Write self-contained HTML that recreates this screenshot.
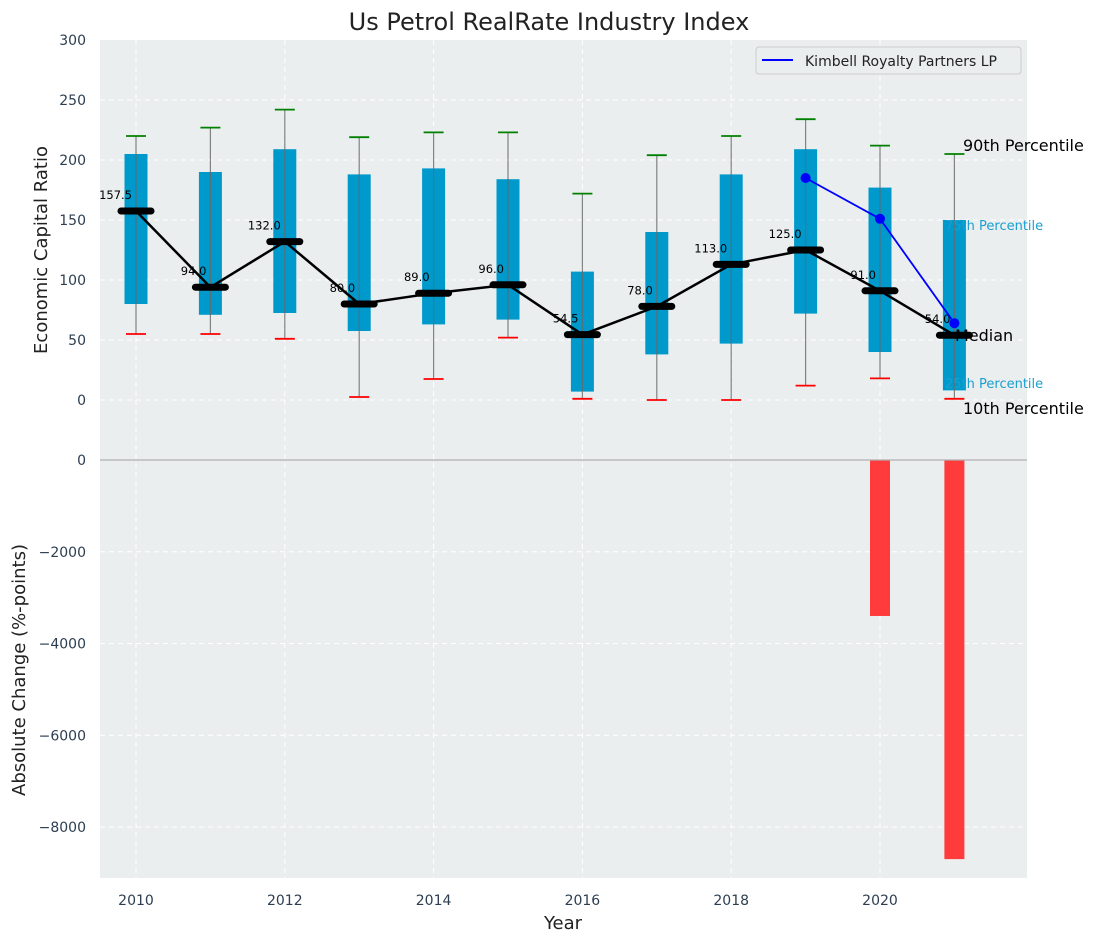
<!DOCTYPE html>
<html><head><meta charset="utf-8"><style>
body{margin:0;background:#fff;}
svg text{font-family:"DejaVu Sans","Liberation Sans",sans-serif;}
</style></head><body>
<svg id="chart" width="1098" height="942" xmlns="http://www.w3.org/2000/svg">
<rect x="100" y="40" width="927" height="838" fill="#eaeeef"/>
<g id="grid"></g>
<g id="bars"></g>
<g id="boxes"></g>
<line x1="100" x2="1027" y1="460" y2="460" stroke="#b0b0b0" stroke-width="1.2"/>
<text x="549" y="30" text-anchor="middle" font-size="24" fill="#222">Us Petrol RealRate Industry Index</text>
<text x="563" y="929" text-anchor="middle" font-size="18" fill="#222">Year</text>
<text transform="translate(47,250) rotate(-90)" text-anchor="middle" font-size="18" fill="#222">Economic Capital Ratio</text>
<text transform="translate(25,670) rotate(-90)" text-anchor="middle" font-size="18" fill="#222">Absolute Change (%-points)</text>
<g>
<rect x="756" y="47" width="265" height="27" rx="3" fill="#eaeeef" stroke="#ccc"/>
<line x1="762" x2="793" y1="60" y2="60" stroke="#0000ff" stroke-width="2"/>
<text x="805" y="66" font-size="14" fill="#222">Kimbell Royalty Partners LP</text>
</g>
<text x="963" y="151" font-size="16" fill="#000">90th Percentile</text>
<text x="945" y="230" font-size="13" fill="#1a9fd0">75th Percentile</text>
<text x="955" y="341" font-size="16" fill="#000">Median</text>
<text x="945" y="388" font-size="13" fill="#1a9fd0">25th Percentile</text>
<text x="963" y="414" font-size="16" fill="#000">10th Percentile</text>
</svg>
<script>
const years=[2010,2011,2012,2013,2014,2015,2016,2017,2018,2019,2020,2021];
const p10=[55,55,51,2.5,17.5,52,1,0,0,12,18,1];
const p25=[80,71,72.5,57.5,63,67,7,38,47,72,40,8];
const medians=[157.5,94,132,80,89,96,54.5,78,113,125,91,54];
const p75=[205,190,209,188,193,184,107,140,188,209,177,150];
const p90=[220,227,242,219,223,223,172,204,220,234,212,205];
const kimYears=[2019,2020,2021];
const kimValues=[185,151,64];
const barYears=[2020,2021];
const barValues=[-3400,-8700];
const topTicks=[0,50,100,150,200,250,300];
const botTicks=[0,-2000,-4000,-6000,-8000];
const xTicks=[2010,2012,2014,2016,2018,2020];

const NS="http://www.w3.org/2000/svg";
const X=y=>136+(y-2010)*74.4;
const YT=v=>400-1.2*v;
const YB=v=>460-v*0.045875;
const svg=document.getElementById('chart');
function mk(tag,attrs,parent){const e=document.createElementNS(NS,tag);for(const k in attrs)e.setAttribute(k,attrs[k]);(parent||svg).appendChild(e);return e;}
const grid=document.getElementById('grid'),bars=document.getElementById('bars'),boxes=document.getElementById('boxes');
topTicks.forEach(t=>{
  if(t<300){const l=mk('line',{x1:100,x2:1027,y1:YT(t),y2:YT(t),stroke:'#fff','stroke-dasharray':'5,4','stroke-width':1},grid);
  
  }
  const tx=mk('text',{x:86,y:YT(t)+5,'text-anchor':'end','font-size':14,fill:'#2c3e50'});tx.textContent=t;
  
  
});
botTicks.forEach(t=>{
  if(t<0){const l=mk('line',{x1:100,x2:1027,y1:YB(t),y2:YB(t),stroke:'#fff','stroke-dasharray':'5,4','stroke-width':1},grid);
  
  }
  const tx=mk('text',{x:86,y:YB(t)+5,'text-anchor':'end','font-size':14,fill:'#2c3e50'});tx.textContent=String(t).replace('-','\u2212');
  
  
});
xTicks.forEach(t=>{
  const l=mk('line',{x1:X(t),x2:X(t),y1:40,y2:878,stroke:'#fff','stroke-dasharray':'5,4','stroke-width':1},grid);
  
  
  const tx=mk('text',{x:X(t),y:905,'text-anchor':'middle','font-size':14,fill:'#2c3e50'});tx.textContent=t;
  
  
});
barYears.forEach((y,i)=>{
  const r=mk('rect',{x:X(y)-10,y:YB(0),width:20,height:YB(barValues[i])-YB(0),fill:'#ff3b3b'},bars);
  
  
});
years.forEach((y,i)=>{
  const cx=X(y);
  const b=mk('rect',{x:cx-11.5,y:YT(p75[i]),width:23,height:YT(p25[i])-YT(p75[i]),fill:'#0099cc'},boxes);
  
  
  const w=mk('line',{x1:cx,x2:cx,y1:YT(p90[i]),y2:YT(p10[i]),stroke:'#666','stroke-opacity':0.8,'stroke-width':1.2},boxes);
  
  
  const ch=mk('line',{x1:cx-10,x2:cx+10,y1:YT(p90[i]),y2:YT(p90[i]),stroke:'#008000','stroke-width':1.8},boxes);
  
  
  const cl=mk('line',{x1:cx-10,x2:cx+10,y1:YT(p10[i]),y2:YT(p10[i]),stroke:'#ff0000','stroke-width':1.8},boxes);
  
  
});
const mp=mk('polyline',{points:years.map((y,i)=>X(y)+','+YT(medians[i])).join(' '),fill:'none',stroke:'#000','stroke-width':2.5});


years.forEach((y,i)=>{
  const cx=X(y),cy=YT(medians[i]);
  const m=mk('line',{x1:cx-15,x2:cx+15,y1:cy,y2:cy,stroke:'#000','stroke-width':7,'stroke-linecap':'round'});
  
  
  const t=mk('text',{x:cx-4,y:cy-12,'text-anchor':'end','font-size':11.5,fill:'#000'});t.textContent=medians[i].toFixed(1);
  
  
});
const kl=mk('polyline',{points:kimYears.map((y,i)=>X(y)+','+YT(kimValues[i])).join(' '),fill:'none',stroke:'#0000ff','stroke-width':1.8});


kimYears.forEach((y,i)=>{
  const c=mk('circle',{cx:X(y),cy:YT(kimValues[i]),r:5,fill:'#0000ff'});
  
  
});
</script>
</body></html>
